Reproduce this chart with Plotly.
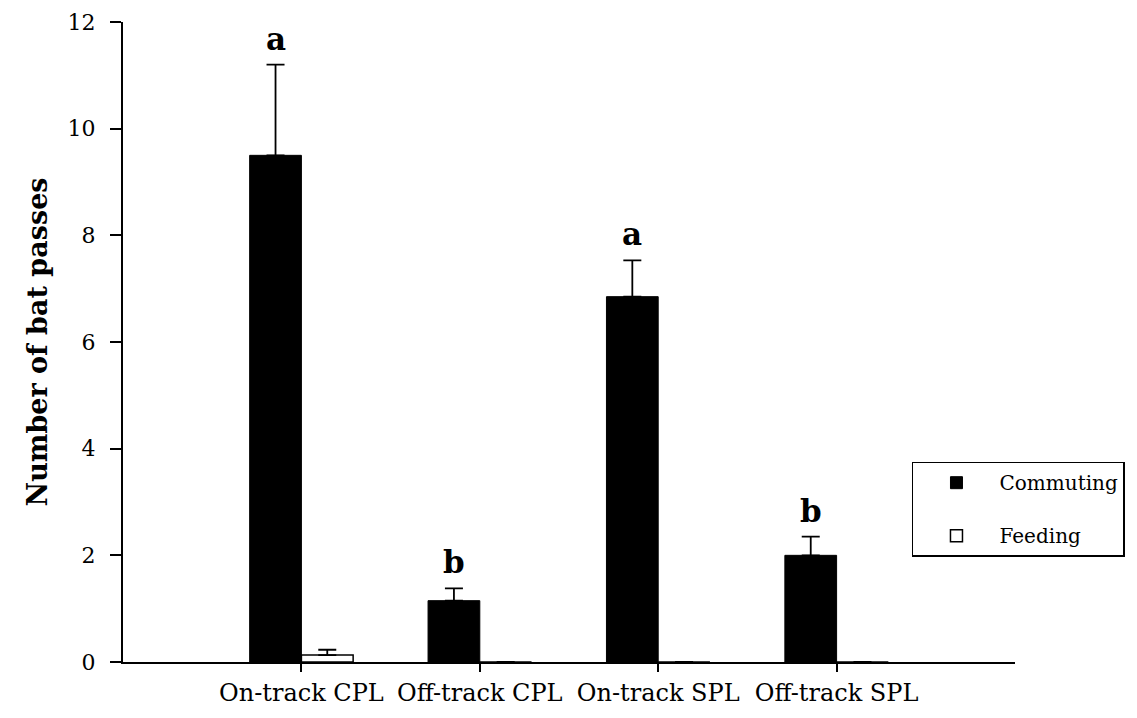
import plotly.graph_objects as go

categories = ["On-track CPL", "Off-track CPL", "On-track SPL", "Off-track SPL"]
commuting = [9.5, 1.15, 6.85, 2.0]
commuting_err = [1.7, 0.23, 0.68, 0.35]
feeding = [0.13, 0.0, 0.0, 0.0]
feeding_err = [0.1, 0.0, 0.0, 0.0]
letters = ["a", "b", "a", "b"]
y_ticks = [0, 2, 4, 6, 8, 10, 12]

xpos = list(range(len(categories)))
BW = 0.29
SERIF = "DejaVu Serif"

fig = go.Figure()
fig.add_trace(go.Bar(
    x=xpos, y=commuting, name="Commuting", offset=-BW, width=BW, legendgroup="c",
    marker=dict(color="black", line=dict(color="black", width=1)),
    error_y=dict(type="data", array=commuting_err, symmetric=False,
                 arrayminus=[0] * len(commuting), color="black", thickness=1.8, width=9),
))
fig.add_trace(go.Bar(
    x=xpos, y=feeding, name="Feeding", offset=0, width=BW, legendgroup="f",
    marker=dict(color="white", line=dict(color="black", width=1.5)),
    error_y=dict(type="data", array=feeding_err, symmetric=False,
                 arrayminus=[0] * len(feeding), color="black", thickness=1.8, width=9),
))

for i, (lab, v, e) in enumerate(zip(letters, commuting, commuting_err)):
    fig.add_annotation(x=xpos[i] - BW / 2, y=v + e, text=f"<b>{lab}</b>", showarrow=False,
                       yanchor="bottom", yshift=6,
                       font=dict(family=SERIF, size=31, color="black"))

fig.update_layout(
    width=1129, height=710,
    margin=dict(l=115, r=122, t=14, b=56, autoexpand=False),
    plot_bgcolor="white", paper_bgcolor="white",
    showlegend=True,
    legend=dict(x=0.8845, y=0.313, xanchor="left", yanchor="top",
                bordercolor="black", borderwidth=1.5, bgcolor="white",
                font=dict(family=SERIF, size=20, color="black"),
                traceorder="grouped", tracegroupgap=24,
                itemwidth=76, entrywidth=216),
    font=dict(family=SERIF, color="black"),
)
fig.update_xaxes(
    range=[-1, 4], tickvals=xpos, ticktext=categories, automargin=False,
    showline=True, linecolor="black", linewidth=2, showgrid=False, zeroline=False,
    ticks="outside", ticklen=8, tickwidth=2, tickcolor="black",
    tickfont=dict(family=SERIF, size=24, color="black"),
)
fig.update_yaxes(
    range=[0, 12], tickvals=y_ticks, automargin=False, ticklabeloverflow="allow",
    showline=True, linecolor="black", linewidth=2, showgrid=False, zeroline=False,
    ticks="outside", ticklen=11, tickwidth=2, tickcolor="black", ticklabelstandoff=10,
    tickfont=dict(family=SERIF, size=22, color="black"),
    title=dict(text="<b>Number of bat passes</b>", standoff=12,
               font=dict(family=SERIF, size=27, color="black")),
)

fig.write_html("out.html")
